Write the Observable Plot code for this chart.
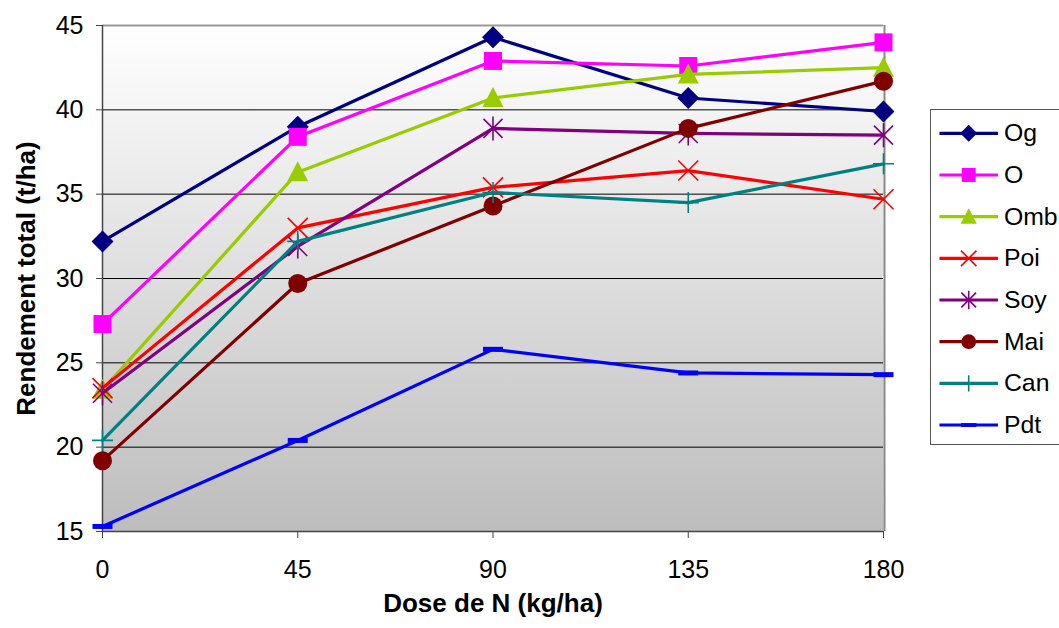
<!DOCTYPE html>
<html>
<head>
<meta charset="utf-8">
<script src="https://cdn.jsdelivr.net/npm/d3@7"></script>
<script src="https://cdn.jsdelivr.net/npm/@observablehq/plot@0.6"></script>
<style>
  html, body { margin: 0; padding: 0; background: #fff; overflow: hidden; }
  #wrap { position: relative; width: 1059px; height: 628px; }
  #legend { position: absolute; left: 930px; top: 109px; width: 129px; }
  #legend svg { box-sizing: border-box; border: 1px solid #555; border-right: none; max-width: none; }
</style>
</head>
<body>
<div id="wrap">
  <div id="chart"></div>
  <div id="legend"></div>
</div>
<script>
// Nitrogen dose (kg/ha) and total yield (t/ha) per preceding crop
const doses = [0, 45, 90, 135, 180];
const og  = [32.2, 39.0, 44.3, 40.7, 39.9];
const o   = [27.3, 38.4, 42.9, 42.6, 44.0];
const omb = [23.4, 36.3, 40.7, 42.1, 42.5];
const poi = [23.5, 33.0, 35.4, 36.4, 34.7];
const soy = [23.2, 31.9, 38.9, 38.6, 38.5];
const mai = [19.2, 29.7, 34.3, 38.9, 41.7];
const can = [20.4, 32.2, 35.1, 34.5, 36.8];
const pdt = [15.3, 20.4, 25.8, 24.4, 24.3];

const seriesNames = ["Og", "O", "Omb", "Poi", "Soy", "Mai", "Can", "Pdt"];
const seriesValues = [og, o, omb, poi, soy, mai, can, pdt];
const seriesColors = ["#000080", "#ff00ff", "#99cc00", "#ff0000", "#800080", "#800000", "#008080", "#0000ff"];
const seriesMarkers = ["diamond", "square", "triangle", "times", "asterisk", "circle", "plus", "dash"];

const yTicks = [15, 20, 25, 30, 35, 40, 45];
const yGrid = [20, 25, 30, 35, 40];
const xTicks = [0, 45, 90, 135, 180];

const FONT = "'Liberation Sans', Arial, Helvetica, sans-serif";

// Marker shapes, k scales them (legend uses smaller ones)
function markerSymbol(kind, k) {
  return {
    draw(ctx) {
      if (kind === "diamond") {
        const h = 11 * k;
        ctx.moveTo(0, -h); ctx.lineTo(h, 0); ctx.lineTo(0, h); ctx.lineTo(-h, 0); ctx.closePath();
      } else if (kind === "square") {
        const s = 9 * k;
        ctx.rect(-s, -s, 2 * s, 2 * s);
      } else if (kind === "triangle") {
        ctx.moveTo(0, -11 * k); ctx.lineTo(10.5 * k, 9 * k); ctx.lineTo(-10.5 * k, 9 * k); ctx.closePath();
      } else if (kind === "times") {
        const r = 10 * k;
        ctx.moveTo(-r, -r); ctx.lineTo(r, r); ctx.moveTo(-r, r); ctx.lineTo(r, -r);
      } else if (kind === "asterisk") {
        const r = 9.5 * k;
        ctx.moveTo(-r, -r); ctx.lineTo(r, r); ctx.moveTo(-r, r); ctx.lineTo(r, -r);
        ctx.moveTo(0, -12 * k); ctx.lineTo(0, 12 * k);
      } else if (kind === "circle") {
        const r = 9.5 * k;
        ctx.moveTo(r, 0); ctx.arc(0, 0, r, 0, 2 * Math.PI);
      } else if (kind === "plus") {
        const r = 10.5 * k;
        ctx.moveTo(0, -r); ctx.lineTo(0, r); ctx.moveTo(-r, 0); ctx.lineTo(r, 0);
      } else if (kind === "dash") {
        ctx.rect(-10 * k, -2.5 * k, 20 * k, 5 * k);
      }
    }
  };
}
const strokedMarkers = new Set(["times", "asterisk", "plus"]);

function dotStyle(i, k) {
  const kind = seriesMarkers[i];
  const c = seriesColors[i];
  return strokedMarkers.has(kind)
    ? {symbol: markerSymbol(kind, k), fill: "none", stroke: c, strokeWidth: 1.6}
    : {symbol: markerSymbol(kind, k), fill: c, stroke: "none"};
}

const rows = seriesNames.map((name, i) =>
  doses.map((d, j) => ({series: name, dose: d, value: seriesValues[i][j]}))
);

const seriesMarks = rows.flatMap((data, i) => [
  Plot.line(data, {x: "dose", y: "value", stroke: seriesColors[i], strokeWidth: 3.2}),
  Plot.dot(data, {x: "dose", y: "value", ...dotStyle(i, 1)})
]);

const chart = Plot.plot({
  width: 1059,
  height: 628,
  marginLeft: 102,
  marginRight: 176,
  marginTop: 25,
  marginBottom: 97,
  style: {fontFamily: FONT, fontSize: "25px", color: "#000", background: "transparent", overflow: "visible"},
  x: {domain: [0, 180]},
  y: {domain: [15, 45]},
  marks: [
    Plot.frame({fill: "url(#plotBg)", stroke: "none"}),
    Plot.ruleY(yGrid, {stroke: "#000", strokeWidth: 1}),
    Plot.ruleY([45], {stroke: "#999", strokeWidth: 2}),
    Plot.ruleX([180], {stroke: "#888", strokeWidth: 2, dx: 1}),
    Plot.ruleX([0], {stroke: "#444", strokeWidth: 1.5}),
    Plot.ruleY([15], {stroke: "#444", strokeWidth: 1.5}),
    Plot.axisY({ticks: yTicks, tickSize: 6, tickPadding: 13, stroke: "#444", label: null, fontSize: 25}),
    Plot.axisX({ticks: xTicks, tickSize: 7, tickPadding: 22, stroke: "#444", label: null, fontSize: 25}),
    Plot.text(["Rendement total (t/ha)"], {
      frameAnchor: "left", textAnchor: "middle", lineAnchor: "middle", rotate: -90, dx: -76,
      fontWeight: "bold", fontSize: 26, fill: "#000"
    }),
    Plot.text(["Dose de N (kg/ha)"], {
      frameAnchor: "bottom", textAnchor: "middle", lineAnchor: "middle", dy: 72,
      fontWeight: "bold", fontSize: 26, fill: "#000"
    }),
    ...seriesMarks
  ]
});

// Vertical grey gradient for the plotting area
const defs = d3.select(chart).insert("defs", ":first-child");
const grad = defs.append("linearGradient")
  .attr("id", "plotBg").attr("x1", 0).attr("y1", 0).attr("x2", 0).attr("y2", 1);
grad.append("stop").attr("offset", "0%").attr("stop-color", "#ffffff");
grad.append("stop").attr("offset", "100%").attr("stop-color", "#bdbdbd");

document.getElementById("chart").append(chart);

// Legend box on the right
const legendLines = seriesNames.map((name, i) =>
  Plot.link([name], {x1: () => 0, x2: () => 1, y1: d => d, y2: d => d, stroke: seriesColors[i], strokeWidth: 3.2})
);
const legendDots = seriesNames.map((name, i) =>
  Plot.dot([name], {x: () => 0.5, y: d => d, ...dotStyle(i, 0.78)})
);

const legend = Plot.plot({
  width: 129,
  height: 337,
  margin: 0,
  style: {fontFamily: FONT, fontSize: "25px", color: "#000", background: "#fff", overflow: "visible", maxWidth: "none"},
  x: {domain: [0, 1], range: [8, 67], axis: null},
  y: {type: "point", domain: seriesNames, range: [21, 319], padding: 0, axis: null},
  marks: [
    ...legendLines,
    ...legendDots,
    Plot.text(seriesNames, {x: () => 1, y: d => d, text: d => d, dx: 6, textAnchor: "start", fontSize: 25, fill: "#000"})
  ]
});
document.getElementById("legend").append(legend);
</script>
</body>
</html>
